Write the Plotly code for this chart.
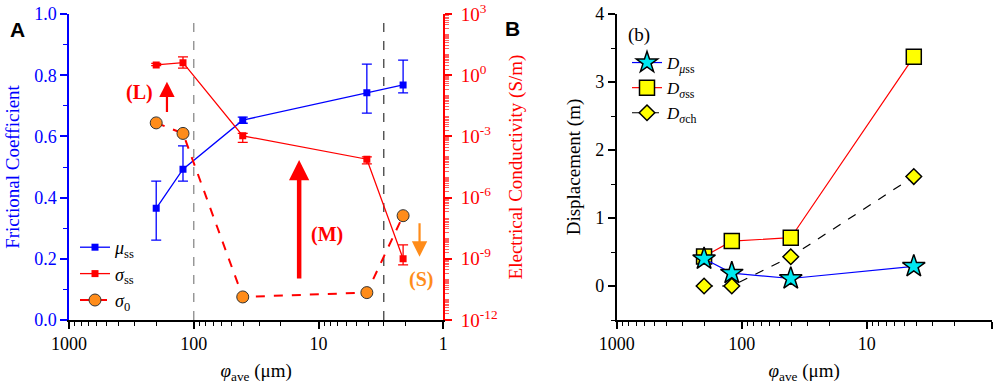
import math
import plotly.graph_objects as go

# ---------------- data ----------------
phi_left = [200, 122, 40.5, 4.1, 2.1]
mu_ss = [0.365, 0.493, 0.653, 0.743, 0.768]
mu_err_up = [0.089, 0.076, 0.010, 0.093, 0.081]
mu_err_dn = [0.104, 0.039, 0.010, 0.067, 0.026]

sigma_ss = [3.2, 4.1, 1.07e-3, 7.6e-5, 1.0e-9]
sigma_ss_hi = [3.8, 7.9, 1.4e-3, 1.0e-4, 4.8e-9]
sigma_ss_lo = [2.96, 2.2, 5.1e-4, 4.5e-5, 5.0e-10]
sigma_0 = [4.6e-3, 1.4e-3, 1.35e-11, 2.2e-11, 1.3e-7]

boundaries = [100, 3]

phi_right = [200, 120, 40.5, 4.2]
D_mu_ss = [0.40, 0.19, 0.11, 0.29]
D_sigma_ss = [0.435, 0.66, 0.71, 3.37]
D_sigma_ch = [0.0, 0.0, 0.43, 1.61]

cond_tickvals = [1e-12, 1e-9, 1e-6, 1e-3, 1e0, 1e3]
cond_ticktext = ["10<sup>-12</sup>", "10<sup>-9</sup>", "10<sup>-6</sup>",
                 "10<sup>-3</sup>", "10<sup>0</sup>", "10<sup>3</sup>"]

# ---------------- styling ----------------
FONT = "Liberation Serif"
BLUE = "#0000FF"
RED = "#FF0000"
ORANGE = "#FF8C1A"
TS = 18

W, H = 996, 387
xl = [69 / W, 443.3 / W]
xr = [616.7 / W, 991.7 / W]
yd = [1 - 320 / H, 1 - 14 / H]

fig = go.Figure()

# boundaries
for b, col in zip(boundaries, ["#8a8a8a", "#404040"]):
    fig.add_trace(go.Scatter(x=[b, b], y=[0, 1], mode="lines", xaxis="x", yaxis="y",
                             line=dict(color=col, width=1.3, dash="dash"),
                             showlegend=False, hoverinfo="skip"))

fig.add_trace(go.Scatter(
    x=phi_left, y=mu_ss, mode="lines+markers", xaxis="x", yaxis="y",
    name="<i>μ</i><sub>ss</sub>", legend="legend", legendgroup="a",
    line=dict(color=BLUE, width=1.3), marker=dict(symbol="square", size=7, color=BLUE),
    error_y=dict(type="data", array=mu_err_up, arrayminus=mu_err_dn,
                 color=BLUE, thickness=1.3, width=5)))

fig.add_trace(go.Scatter(
    x=phi_left, y=sigma_ss, mode="lines+markers", xaxis="x", yaxis="y2",
    name="<i>σ</i><sub>ss</sub>", legend="legend", legendgroup="b",
    line=dict(color=RED, width=1.3), marker=dict(symbol="square", size=7, color=RED),
    error_y=dict(type="data",
                 array=[h - v for h, v in zip(sigma_ss_hi, sigma_ss)],
                 arrayminus=[v - l for l, v in zip(sigma_ss_lo, sigma_ss)],
                 color=RED, thickness=1.3, width=5)))

fig.add_trace(go.Scatter(
    x=phi_left, y=sigma_0, mode="lines+markers", xaxis="x", yaxis="y2",
    name="<i>σ</i><sub>0</sub>", legend="legend", legendgroup="c",
    line=dict(color=RED, width=2, dash="dash"),
    marker=dict(symbol="circle", size=12, color=ORANGE, line=dict(color="#333333", width=1))))

# right panel
fig.add_trace(go.Scatter(
    x=phi_right, y=D_sigma_ch, mode="lines+markers", xaxis="x3", yaxis="y3",
    name="<i>D</i><sub><i>σ</i>ch</sub>", legend="legend2", legendrank=3, legendgroup="f",
    line=dict(color="black", width=1.2, dash="dash"),
    marker=dict(symbol="diamond", size=12, color="#FFFF00", line=dict(color="black", width=1.5))))
fig.add_trace(go.Scatter(
    x=phi_right, y=D_sigma_ss, mode="lines+markers", xaxis="x3", yaxis="y3",
    name="<i>D</i><sub><i>σ</i>ss</sub>", legend="legend2", legendrank=2, legendgroup="e",
    line=dict(color=RED, width=1.2),
    marker=dict(symbol="square", size=15, color="#FFFF00", line=dict(color="black", width=1.5))))
fig.add_trace(go.Scatter(
    x=phi_right, y=D_mu_ss, mode="lines+markers", xaxis="x3", yaxis="y3",
    name="<i>D</i><sub><i>μ</i>ss</sub>", legend="legend2", legendrank=1, legendgroup="d",
    line=dict(color=BLUE, width=1.2),
    marker=dict(symbol="star", size=17, color="#00E8F0", line=dict(color="black", width=1.5))))

tickfont = dict(family=FONT, size=TS, color="black")
xcommon = dict(type="log", range=[3, 0], showgrid=False, zeroline=False, automargin=False,
               tickvals=[1000, 100, 10, 1], ticktext=["1000", "100", "10", "1"],
               showline=True, linecolor="black", linewidth=1.5,
               ticklen=7, tickwidth=1.5, tickcolor="black", tickfont=tickfont,
               minor=dict(ticks="outside", ticklen=4, tickwidth=1.2, tickcolor="black",
                          dtick="D1", showgrid=False))
xtop = dict(type="log", range=[3, 0], showgrid=False, zeroline=False, side="top", automargin=False,
            tickvals=[1000, 100, 10, 1], showticklabels=False,
            showline=True, linecolor="black", linewidth=1.5,
            ticks="inside", ticklen=7, tickwidth=1.5, tickcolor="black",
            minor=dict(ticks="inside", ticklen=4, tickwidth=1.2, tickcolor="black",
                       dtick="D1", showgrid=False))
xtitle = dict(text="<i>φ</i><sub>ave</sub> (μm)", font=dict(family=FONT, size=19, color="black"),
              standoff=10)

fig.update_layout(
    width=W, height=H, margin=dict(l=0, r=0, t=0, b=0),
    paper_bgcolor="white", plot_bgcolor="rgba(0,0,0,0)",
    font=dict(family=FONT, size=TS, color="black"),
    xaxis=dict(domain=xl, anchor="y", ticks="outside", title=xtitle, **xcommon),
    xaxis2=dict(overlaying="x", anchor="y", **xtop),
    yaxis=dict(domain=yd, anchor="x", range=[0, 1], dtick=0.2, tickformat=".1f", automargin=False,
               showgrid=False, zeroline=False, showline=True, linecolor=BLUE, linewidth=1.5,
               ticks="outside", ticklen=7, tickwidth=1.5, tickcolor=BLUE,
               tickfont=dict(family=FONT, size=TS, color=BLUE),
               minor=dict(ticks="outside", ticklen=4, tickwidth=1.2, tickcolor=BLUE, dtick=0.1),
               title=dict(text="Frictional Coefficient", font=dict(family=FONT, size=19, color=BLUE),
                          standoff=10)),
    yaxis2=dict(overlaying="y", anchor="x", side="right", type="log", range=[-12, 3], automargin=False,
                tickvals=cond_tickvals, ticktext=cond_ticktext,
                showgrid=False, zeroline=False, showline=True, linecolor=RED, linewidth=1.5,
                ticks="outside", ticklen=7, tickwidth=1.5, tickcolor=RED,
                ticklabelstandoff=5,
                tickfont=dict(family=FONT, size=19, color=RED),
                minor=dict(ticks="outside", ticklen=4, tickwidth=1, tickcolor="#FF6060",
                           dtick="D1", showgrid=False),
                title=dict(text="Electrical Conductivity (S/m)",
                           font=dict(family=FONT, size=19, color=RED), standoff=12)),
    xaxis3=dict(domain=xr, anchor="y3", ticks="outside", title=xtitle, **xcommon),
    xaxis4=dict(overlaying="x3", anchor="y3", **xtop),
    yaxis3=dict(domain=yd, anchor="x3", range=[-0.5, 4], dtick=1, automargin=False,
                showgrid=False, zeroline=False, showline=True, linecolor="black", linewidth=1.5,
                ticks="outside", ticklen=7, tickwidth=1.5, tickcolor="black", tickfont=tickfont,
                minor=dict(ticks="outside", ticklen=4, tickwidth=1.2, tickcolor="black", dtick=0.5),
                title=dict(text="Displacement (m)", font=dict(family=FONT, size=19, color="black"),
                           standoff=10)),
    yaxis4=dict(overlaying="y3", anchor="x3", side="right", range=[-0.5, 4], dtick=1, automargin=False,
                showticklabels=False, showgrid=False, zeroline=False,
                showline=True, linecolor="black", linewidth=1.5,
                ticks="inside", ticklen=7, tickwidth=1.5, tickcolor="black",
                minor=dict(ticks="inside", ticklen=4, tickwidth=1.2, tickcolor="black", dtick=0.5)),
    legend=dict(x=75 / W, y=1 - 229 / H, xanchor="left", yanchor="top",
                bgcolor="rgba(0,0,0,0)", font=dict(family=FONT, size=18, color="black"),
                tracegroupgap=0, itemwidth=30),
    legend2=dict(x=627 / W, y=1 - 45 / H, xanchor="left", yanchor="top",
                 bgcolor="rgba(0,0,0,0)", font=dict(family=FONT, size=17, color="black"),
                 tracegroupgap=0, itemwidth=30),
)

# arrows and labels (x positions in log units for log axes)
lg = math.log10
arrows = [
    dict(x=164, y0=0.675, y1=0.779, color=RED, w=2.2, size=1.4),
    dict(x=14.3, y0=0.131, y1=0.523, color=RED, w=4.5, size=0.9),
    dict(x=1.55, y0=0.321, y1=0.207, color=ORANGE, w=2.2, size=1.4),
]
for a in arrows:
    fig.add_annotation(x=lg(a["x"]), y=a["y1"], ax=lg(a["x"]), ay=a["y0"],
                       xref="x", yref="y", axref="x", ayref="y", text="",
                       showarrow=True, arrowhead=2, arrowsize=a["size"],
                       arrowwidth=a["w"], arrowcolor=a["color"])

labels = [("(L)", 270, 0.742, RED), ("(M)", 8.6, 0.28, RED), ("(S)", 1.5, 0.131, ORANGE)]
for t, x, y, c in labels:
    fig.add_annotation(x=lg(x), y=y, xref="x", yref="y", text="<b>%s</b>" % t, showarrow=False,
                       font=dict(family=FONT, size=20, color=c))

fig.add_annotation(x=626 / W, y=1 - 35 / H, xref="paper", yref="paper", text="(b)",
                   showarrow=False, xanchor="left", yanchor="middle",
                   font=dict(family=FONT, size=19, color="black"))

fig.add_annotation(x=8 / W, y=1 - 16 / H, xref="paper", yref="paper", text="<b>A</b>",
                   showarrow=False, xanchor="left",
                   font=dict(family="Liberation Sans", size=21, color="black"))
fig.add_annotation(x=503 / W, y=1 - 15 / H, xref="paper", yref="paper", text="<b>B</b>",
                   showarrow=False, xanchor="left",
                   font=dict(family="Liberation Sans", size=21, color="black"))

fig.write_html("out.html", config={"displayModeBar": False},
               post_script="document.body.style.margin='0';document.body.style.overflow='hidden';")
